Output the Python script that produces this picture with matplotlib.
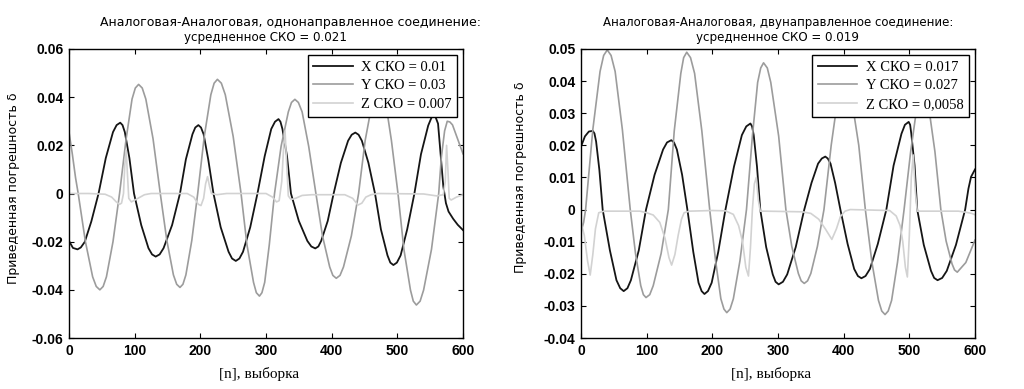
import matplotlib
matplotlib.use("Agg")
import matplotlib.pyplot as plt

# ---- left panel: однонаправленное соединение ----
left_x_n = [0, 6, 13, 18, 24, 34, 45, 56, 67, 72.5, 78, 81.5, 85, 92, 99, 110, 121, 126.5, 132, 138,
            144, 157, 169, 178, 188, 192.3, 197, 201, 205, 212, 220, 231, 243, 248.3, 254, 259.5, 265, 276,
            287, 298, 308, 313.7, 319, 322, 325, 332, 338, 350, 363, 369, 375, 379.7, 384, 394, 403, 414,
            425, 430.5, 436, 441, 446, 456, 466, 475, 485, 489.3, 494, 499.3, 505, 515, 526, 536, 547, 552,
            557, 562, 566, 570, 574, 578, 585, 592, 600]
left_x_v = [-0.0197, -0.0226, -0.0232, -0.0224, -0.0201, -0.0116, 0.0, 0.0147, 0.0255, 0.0284, 0.0294,
            0.0284, 0.0255, 0.0147, 0.0, -0.0131, -0.0227, -0.0253, -0.0262, -0.0253, -0.0227, -0.0131,
            0.0, 0.0142, 0.0246, 0.0274, 0.0284, 0.0274, 0.0246, 0.0142, 0.0, -0.0140, -0.0242, -0.0270,
            -0.0280, -0.0270, -0.0242, -0.0140, 0.0, 0.0155, 0.0268, 0.0298, 0.0309, 0.0298, 0.0268, 0.0155,
            0.0, -0.0114, -0.0197, -0.0220, -0.0228, -0.0220, -0.0197, -0.0114, 0.0, 0.0127, 0.0219, 0.0244,
            0.0253, 0.0244, 0.0219, 0.0127, 0.0, -0.0149, -0.0257, -0.0287, -0.0297, -0.0287, -0.0257,
            -0.0149, 0.0, 0.0163, 0.0282, 0.0315, 0.0326, 0.0290, 0.0160, 0.0030, -0.0040, -0.0075, -0.0105,
            -0.0130, -0.0152]

left_y_n = [0, 5, 10, 14, 25, 36, 41.5, 47, 52, 57, 67, 77, 87, 96, 101, 106, 111.5, 117, 128, 139, 149,
            159, 164, 169, 173.5, 178, 187, 196, 206, 216, 221, 226, 232, 238, 250, 262, 271, 281, 285.3,
            290, 293.8, 298, 305, 313, 323, 334, 338.8, 344, 349.3, 355, 365, 376, 386, 397, 401.8, 407,
            412.7, 418, 430, 441, 451, 462, 466.8, 472, 476.8, 482, 491, 501, 510, 520, 524.3, 529, 534.7,
            540, 552, 563, 567, 572, 576, 580, 584, 592, 600]
left_y_v = [0.0255, 0.0165, 0.0065, 0.0, -0.0200, -0.0346, -0.0386, -0.0400, -0.0386, -0.0346, -0.0200,
            0.0, 0.0227, 0.0392, 0.0438, 0.0453, 0.0438, 0.0392, 0.0227, 0.0, -0.0195, -0.0338, -0.0377,
            -0.0390, -0.0377, -0.0338, -0.0195, 0.0, 0.0237, 0.0410, 0.0458, 0.0474, 0.0458, 0.0410, 0.0237,
            0.0, -0.0213, -0.0369, -0.0412, -0.0426, -0.0412, -0.0369, -0.0213, 0.0, 0.0196, 0.0339, 0.0378,
            0.0391, 0.0378, 0.0339, 0.0196, 0.0, -0.0176, -0.0305, -0.0340, -0.0352, -0.0340, -0.0305,
            -0.0176, 0.0, 0.0220, 0.0381, 0.0425, 0.0440, 0.0425, 0.0381, 0.0220, 0.0, -0.0232, -0.0401,
            -0.0447, -0.0463, -0.0447, -0.0401, -0.0232, 0.0, 0.0150, 0.0260, 0.0300, 0.0297, 0.0285,
            0.0225, 0.0165]

left_z_n = [0, 30, 55, 65, 72, 77, 80, 83, 85, 87, 89, 91, 95, 105, 115, 125, 180, 190, 197, 201, 205, 208,
            211, 214, 217, 225, 240, 300, 310, 316, 320, 324, 327, 329, 331, 334, 338, 345, 355, 370, 420,
            432, 440, 446, 452, 460, 470, 540, 560, 570, 573, 575, 577, 579, 582, 590, 600]
left_z_v = [0.0, 0.0, -0.0003, -0.0015, -0.0035, -0.0045, -0.0040, 0.0, 0.0120, 0.0180, 0.0080, -0.0020,
            -0.0035, -0.0020, -0.0005, 0.0, 0.0, -0.0015, -0.0045, -0.0050, -0.0020, 0.0040, 0.0070, 0.0030,
            0.0, -0.0005, 0.0, 0.0, -0.0015, -0.0035, -0.0030, 0.0050, 0.0200, 0.0260, 0.0150, -0.0010,
            -0.0025, -0.0020, -0.0008, -0.0005, -0.0005, -0.0020, -0.0048, -0.0040, -0.0015, -0.0005, 0.0,
            -0.0002, -0.0010, -0.0005, 0.0050, 0.0200, 0.0100, -0.0020, -0.0027, -0.0015, -0.0005]

# ---- right panel: двунаправленное соединение ----
right_x_n = [0, 6, 12, 18, 20.5, 23, 28, 33, 44, 54, 59.7, 65, 70.7, 76, 88, 99, 112, 125, 131, 137.5,
             141.6, 146, 154, 162, 171, 179, 183.7, 188, 193.3, 199, 209, 220, 233, 245, 251.7, 258, 260.5,
             263, 268, 273, 282, 292, 296.3, 301, 307.5, 314, 327, 340, 351, 361, 366.7, 372, 375.8, 380,
             387, 395, 406, 416, 421.7, 427, 433.3, 440, 452, 465, 476, 488, 493.3, 499, 501.2, 503, 508,
             512, 522, 533, 537.8, 543, 550, 557, 571, 585, 590, 594, 600]
right_x_v = [0.0196, 0.0228, 0.0243, 0.0245, 0.0237, 0.0212, 0.0123, 0.0, -0.0127, -0.0220, -0.0245,
             -0.0254, -0.0245, -0.0220, -0.0127, 0.0, 0.0108, 0.0187, 0.0209, 0.0216, 0.0209, 0.0187, 0.0108,
             0.0, -0.0132, -0.0228, -0.0254, -0.0263, -0.0254, -0.0228, -0.0132, 0.0, 0.0134, 0.0232, 0.0259,
             0.0268, 0.0259, 0.0232, 0.0134, 0.0, -0.0117, -0.0202, -0.0225, -0.0233, -0.0225, -0.0202,
             -0.0117, 0.0, 0.0083, 0.0143, 0.0159, 0.0165, 0.0159, 0.0143, 0.0083, 0.0, -0.0107, -0.0185,
             -0.0207, -0.0214, -0.0207, -0.0185, -0.0107, 0.0, 0.0137, 0.0236, 0.0264, 0.0273, 0.0264, 0.0236,
             0.0137, 0.0, -0.0110, -0.0191, -0.0213, -0.0220, -0.0213, -0.0191, -0.0110, 0.0, 0.0065, 0.0102,
             0.0125]

right_y_n = [0, 4, 7, 18, 29, 34.5, 40, 45.8, 52, 63, 75, 83, 91, 95, 99, 104.7, 110, 122, 133, 142, 152,
             156.3, 161, 166.8, 173, 184, 196, 205, 213, 217.7, 222, 227, 232, 242, 252, 261, 269, 273.7, 278,
             283.7, 289, 301, 312, 321, 331, 335.3, 340, 345, 350, 360, 370, 381, 391, 396.7, 402, 407.2, 412,
             423, 433, 443, 453, 458, 463, 467.8, 473, 482, 492, 502, 511, 516.2, 521, 525.5, 530, 539, 548,
             556, 565, 568.8, 573, 586, 600]
right_y_v = [-0.0070, -0.0040, 0.0, 0.0249, 0.0430, 0.0480, 0.0497, 0.0480, 0.0430, 0.0249, 0.0, -0.0137,
             -0.0237, -0.0265, -0.0274, -0.0265, -0.0237, -0.0137, 0.0, 0.0245, 0.0424, 0.0473, 0.0490,
             0.0473, 0.0424, 0.0245, 0.0, -0.0160, -0.0278, -0.0310, -0.0321, -0.0310, -0.0278, -0.0160, 0.0,
             0.0229, 0.0396, 0.0441, 0.0457, 0.0441, 0.0396, 0.0229, 0.0, -0.0115, -0.0199, -0.0222, -0.0230,
             -0.0222, -0.0199, -0.0115, 0.0, 0.0200, 0.0346, 0.0386, 0.0400, 0.0386, 0.0346, 0.0200, 0.0,
             -0.0164, -0.0283, -0.0316, -0.0327, -0.0316, -0.0283, -0.0164, 0.0, 0.0180, 0.0312, 0.0348,
             0.0360, 0.0348, 0.0312, 0.0180, 0.0, -0.0098, -0.0169, -0.0188, -0.0195, -0.0165, -0.0095]

right_z_n = [0, 5, 10, 14, 18, 22, 27, 35, 60, 90, 100, 110, 120, 128, 134, 138, 143, 148, 153, 157, 165,
             200, 220, 232, 240, 246, 251, 255, 258, 261, 264, 267, 270, 273, 280, 337, 350, 362, 372, 382,
             389, 395, 402, 410, 470, 480, 486, 490, 494, 497, 500, 503, 506, 509, 512, 520, 560, 575, 585,
             595, 600]
right_z_v = [-0.0040, -0.0080, -0.0160, -0.0204, -0.0140, -0.0060, -0.0010, -0.0005, -0.0005, -0.0005,
             -0.0010, -0.0017, -0.0040, -0.0090, -0.0150, -0.0173, -0.0140, -0.0080, -0.0030, -0.0010,
             -0.0005, -0.0003, -0.0004, -0.0015, -0.0050, -0.0100, -0.0180, -0.0207, -0.0120, 0.0, 0.0080,
             0.0100, 0.0030, -0.0005, -0.0005, -0.0007, -0.0012, -0.0030, -0.0060, -0.0093, -0.0060,
             -0.0022, -0.0005, 0.0, -0.0003, -0.0020, -0.0050, -0.0100, -0.0180, -0.0210, -0.0080, 0.0100,
             0.0170, 0.0060, -0.0005, -0.0005, -0.0005, -0.0005, -0.0008, -0.0012, -0.0016]

left_labels = ["X СКО = 0.01", "Y СКО = 0.03", "Z СКО = 0.007"]
right_labels = ["X СКО = 0.017", "Y СКО = 0.027", "Z СКО = 0,0058"]

left_yticks = [-0.06, -0.04, -0.02, 0, 0.02, 0.04, 0.06]
left_yticklabels = ["-0.06", "-0.04", "-0.02", "0", "0.02", "0.04", "0.06"]
right_yticks = [-0.04, -0.03, -0.02, -0.01, 0, 0.01, 0.02, 0.03, 0.04, 0.05]
right_yticklabels = ["-0.04", "-0.03", "-0.02", "-0.01", "0", "0.01", "0.02", "0.03", "0.04", "0.05"]
xticks = [0, 100, 200, 300, 400, 500, 600]

colors = ["#151515", "#9c9c9c", "#d2d2d2"]
widths = [1.3, 1.2, 1.2]

fig = plt.figure(figsize=(10.24, 3.89), dpi=100)
ax1 = fig.add_axes([69 / 1024, 51 / 389, 394 / 1024, 289 / 389])
ax2 = fig.add_axes([581 / 1024, 51 / 389, 394 / 1024, 289 / 389])


def draw(ax, series, labels, ylim, yticks, yticklabels, ylab_xy):
    for (n, v), c, w, lab in zip(series, colors, widths, labels):
        ax.plot(n, v, color=c, lw=w, label=lab)
    ax.set_xlim(0, 600)
    ax.set_ylim(*ylim)
    ax.set_xticks(xticks)
    ax.set_xticklabels([str(t) for t in xticks])
    ax.set_yticks(yticks)
    ax.set_yticklabels(yticklabels)
    ax.tick_params(direction="in", top=True, right=True, length=3.5, width=0.8, labelsize=10, pad=4)
    for lbl in ax.get_xticklabels() + ax.get_yticklabels():
        lbl.set_fontfamily("Liberation Sans")
        lbl.set_fontweight("bold")
    for sp in ax.spines.values():
        sp.set_linewidth(1.0)
    ax.set_xlabel("[n], выборка", family="Liberation Serif", fontsize=11)
    ax.xaxis.set_label_coords(0.482, -0.1)
    ax.set_ylabel("Приведенная погрешность δ", family="DejaVu Sans", fontsize=9)
    ax.yaxis.set_label_coords(*ylab_xy)
    leg = ax.legend(loc="upper right", bbox_to_anchor=(0.985, 0.979), borderaxespad=0,
                    fancybox=False, framealpha=1, edgecolor="black",
                    prop={"family": "Liberation Serif", "size": 10.5},
                    handlelength=2.7, handletextpad=0.55, labelspacing=0.35, borderpad=0.4)
    leg.get_frame().set_linewidth(1.0)


draw(ax1, [(left_x_n, left_x_v), (left_y_n, left_y_v), (left_z_n, left_z_v)], left_labels,
     (-0.06, 0.06), left_yticks, left_yticklabels, (-0.124, 0.517))
draw(ax2, [(right_x_n, right_x_v), (right_y_n, right_y_v), (right_z_n, right_z_v)], right_labels,
     (-0.04, 0.05), right_yticks, right_yticklabels, (-0.137, 0.555))

fig.text(290 / 1024, 1 - 22.5 / 389, "Аналоговая-Аналоговая, однонаправленное соединение:",
         ha="center", va="center", fontsize=9.0, family="DejaVu Sans")
fig.text(265 / 1024, 1 - 37 / 389, "усредненное СКО = 0.021",
         ha="center", va="center", fontsize=8.6, family="DejaVu Sans")
fig.text(778 / 1024, 1 - 22.5 / 389, "Аналоговая-Аналоговая, двунаправленное соединение:",
         ha="center", va="center", fontsize=8.5, family="DejaVu Sans")
fig.text(777.5 / 1024, 1 - 37 / 389, "усредненное СКО = 0.019",
         ha="center", va="center", fontsize=8.6, family="DejaVu Sans")

fig.savefig("out.png", dpi=100)
